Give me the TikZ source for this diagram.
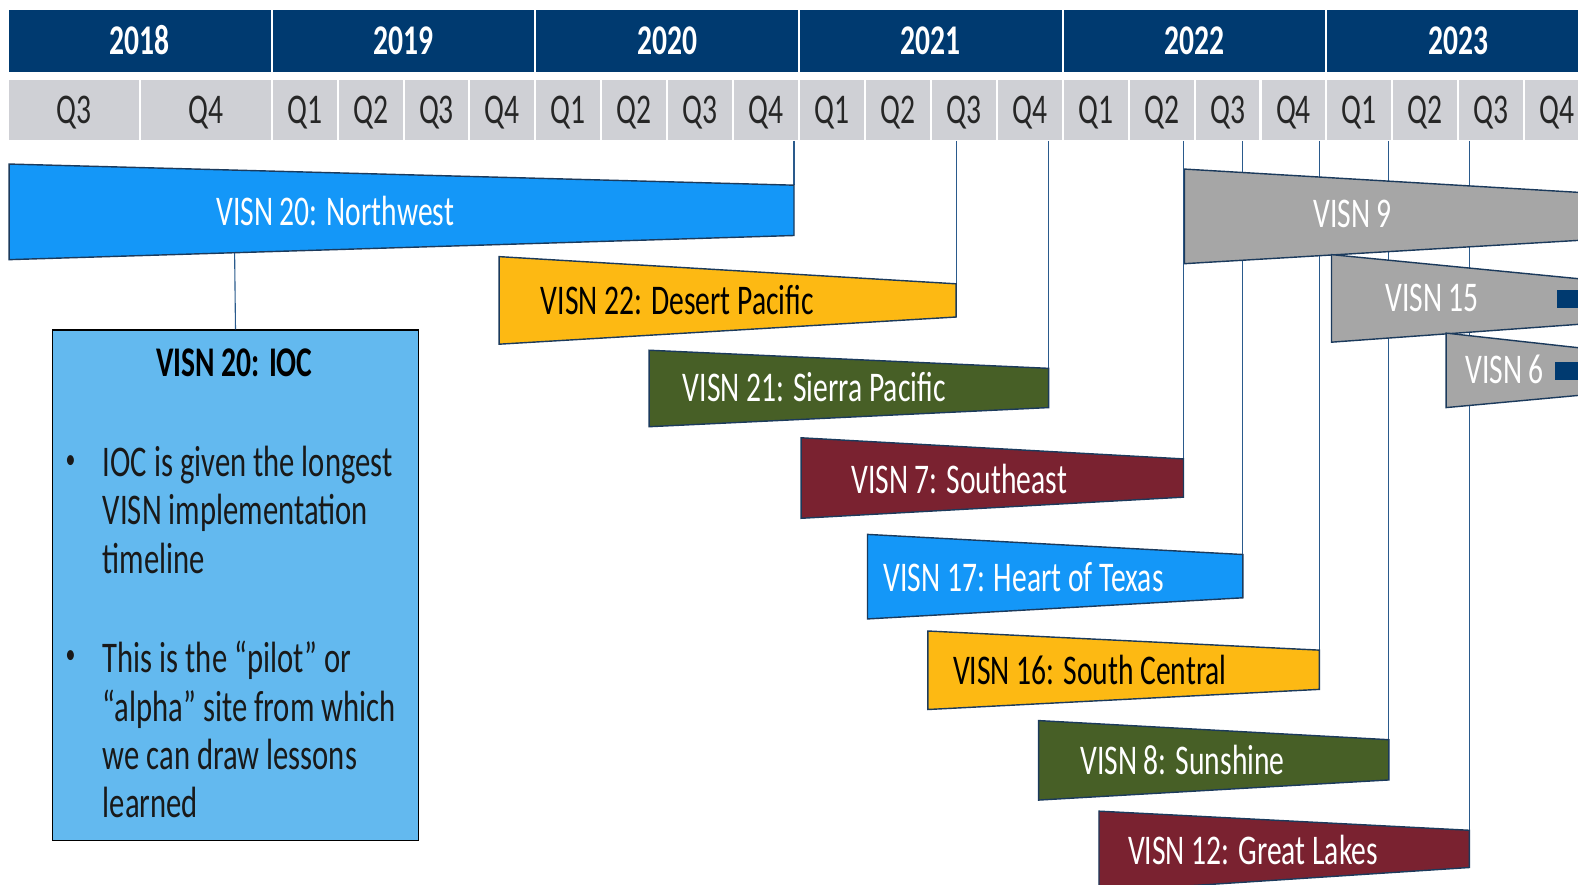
\documentclass[tikz,border=0pt]{standalone}
\usepackage{tikz}
\usetikzlibrary{positioning, calc}
\usepackage{xcolor}
\usepackage{fontspec}
\setmainfont{Carlito}[FakeStretch=0.7]

\definecolor{headnavy}{HTML}{003A70}
\definecolor{qgray}{HTML}{CFD0D5}
\definecolor{barblue}{HTML}{1497F8}
\definecolor{bargold}{HTML}{FDB913}
\definecolor{bargreen}{HTML}{475F26}
\definecolor{barmaroon}{HTML}{7A2230}
\definecolor{bargray}{HTML}{A6A6A6}
\definecolor{edgenavy}{HTML}{1B3A5C}
\definecolor{guideblue}{HTML}{2A5A8C}
\definecolor{iocblue}{HTML}{63B9EF}

\begin{document}
\begin{tikzpicture}[x=1pt, y=-1pt,
    year_cell/.style={fill=headnavy, text=white, font={\fontsize{42}{48}\selectfont\bfseries},
      minimum width=260pt, minimum height=62pt, inner sep=0pt, text height=27pt, text depth=0pt},
    quarter_cell/.style={fill=qgray, text=black!85, font={\fontsize{42}{48}\selectfont},
      minimum width=63.5pt, minimum height=60pt, inner sep=0pt, text height=27pt, text depth=0pt},
    wide_quarter/.style={quarter_cell, minimum width=129pt},
    bar_edge/.style={draw=edgenavy, line width=1.4pt, line join=miter},
    bar_label/.style={text=white, font={\fontsize{42}{48}\selectfont}, inner sep=0pt},
    bar_label_dark/.style={bar_label, text=black},
    guide_line/.style={draw=guideblue, line width=1.1pt},
    ioc_box_style/.style={fill=iocblue, draw=black, line width=1.6pt,
      minimum width=364pt, minimum height=507pt, inner sep=0pt},
    ioc_text/.style={text=black!90, font={\fontsize{43.5}{48}\selectfont}, align=left,
      inner sep=0pt, anchor=north west},
    bullet_dot/.style={text=black!90, font={\fontsize{28}{32}\selectfont}, inner sep=0pt}]
          % 子圖形 canvas (類型: bounding_box)
          \useasboundingbox (0, 0) rectangle (1568, 879);
          \clip (0, 0) rectangle (1568, 879);

          % 子圖形 years (類型: header)
          \begin{scope}[shift={(0.0, 0.0)}]
            % 年份
            \node[year_cell] (year_2018) at (139, 41) {2018};
            \node[year_cell] (year_2019) at (401, 41) {2019};
            \node[year_cell] (year_2020) at (663, 41) {2020};
            \node[year_cell] (year_2021) at (925, 41) {2021};
            \node[year_cell] (year_2022) at (1187, 41) {2022};
            \node[year_cell] (year_2023) at (1449, 41) {2023};
          \end{scope}

          % 子圖形 quarters (類型: header)
          \begin{scope}[shift={(0.0, 0.0)}]
            % 季度
            \node[wide_quarter] (q_2018_3) at (73.5, 109) {Q3};
            \node[wide_quarter] (q_2018_4) at (205, 109) {Q4};
            \node[quarter_cell] (q_2019_1) at (302.75, 109) {Q1};
            \node[quarter_cell] (q_2019_2) at (368.25, 109) {Q2};
            \node[quarter_cell] (q_2019_3) at (433.75, 109) {Q3};
            \node[quarter_cell] (q_2019_4) at (499.25, 109) {Q4};
            \node[quarter_cell] (q_2020_1) at (564.75, 109) {Q1};
            \node[quarter_cell] (q_2020_2) at (630.25, 109) {Q2};
            \node[quarter_cell] (q_2020_3) at (695.75, 109) {Q3};
            \node[quarter_cell] (q_2020_4) at (761.25, 109) {Q4};
            \node[quarter_cell] (q_2021_1) at (826.75, 109) {Q1};
            \node[quarter_cell] (q_2021_2) at (892.25, 109) {Q2};
            \node[quarter_cell] (q_2021_3) at (957.75, 109) {Q3};
            \node[quarter_cell] (q_2021_4) at (1023.25, 109) {Q4};
            \node[quarter_cell] (q_2022_1) at (1088.75, 109) {Q1};
            \node[quarter_cell] (q_2022_2) at (1154.25, 109) {Q2};
            \node[quarter_cell] (q_2022_3) at (1219.75, 109) {Q3};
            \node[quarter_cell] (q_2022_4) at (1285.25, 109) {Q4};
            \node[quarter_cell] (q_2023_1) at (1350.75, 109) {Q1};
            \node[quarter_cell] (q_2023_2) at (1416.25, 109) {Q2};
            \node[quarter_cell] (q_2023_3) at (1481.75, 109) {Q3};
            \node[quarter_cell] (q_2023_4) at (1547.25, 109) {Q4};
          \end{scope}

          % 子圖形 ioc (類型: box)
          \begin{scope}[shift={(0.0, 0.0)}]
            % 說明框
            \node[ioc_box_style] (ioc_box) at (234, 581.5) {};
            \node[bar_label_dark, font={\fontsize{42}{48}\selectfont\bfseries}] (ioc_title) at (233, 360) {VISN 20: IOC};
            \node[bullet_dot] (dot_1) at (70, 459) {•};
            \node[ioc_text] (bullet_1) at (102, 443) {IOC is given the longest\\VISN implementation\\timeline};
            \node[bullet_dot] (dot_2) at (70, 653) {•};
            \node[ioc_text] (bullet_2) at (102, 637) {This is the “pilot” or\\“alpha” site from which\\we can draw lessons\\learned};
          \end{scope}

          % 子圖形 anchors (類型: coordinate)
          \begin{scope}[shift={(0.0, 0.0)}]
            % 錨點
            \coordinate (visn20_tick) at (789, 140);
            \coordinate (visn20_end) at (789, 184);
            \coordinate (visn20_foot) at (233, 240);
            \coordinate (visn22_tick) at (950, 140);
            \coordinate (visn22_end) at (950, 282);
            \coordinate (visn21_tick) at (1042, 140);
            \coordinate (visn21_end) at (1042, 366);
            \coordinate (visn7_tick) at (1176, 140);
            \coordinate (visn7_end) at (1176, 456);
            \coordinate (visn17_tick) at (1235, 140);
            \coordinate (visn17_end) at (1235, 551);
            \coordinate (visn16_tick) at (1311, 140);
            \coordinate (visn16_end) at (1311, 646);
            \coordinate (visn8_tick) at (1380, 140);
            \coordinate (visn8_end) at (1380, 735);
            \coordinate (visn12_tick) at (1460, 140);
            \coordinate (visn12_end) at (1460, 825);
          \end{scope}

          % 子圖形 guides (類型: line)
          \begin{scope}[shift={(0.0, 0.0)}]
            % 線段
            \draw[guide_line] (visn20_tick) -- (visn20_end);
            \draw[guide_line] (visn20_foot) -- (ioc_box.north);
            \draw[guide_line] (visn22_tick) -- (visn22_end);
            \draw[guide_line] (visn21_tick) -- (visn21_end);
            \draw[guide_line] (visn7_tick) -- (visn7_end);
            \draw[guide_line] (visn17_tick) -- (visn17_end);
            \draw[guide_line] (visn16_tick) -- (visn16_end);
            \draw[guide_line] (visn8_tick) -- (visn8_end);
            \draw[guide_line] (visn12_tick) -- (visn12_end);
          \end{scope}

          % 子圖形 bars (類型: polygon)
          \begin{scope}[shift={(0.0, 0.0)}]
            % 梯形
            \fill[fill=barblue, bar_edge] (9, 163) -- (visn20_end) -- (789, 234) -- (9, 258) -- cycle;
            \fill[fill=bargold, bar_edge] (496, 255) -- (visn22_end) -- (950, 315) -- (496, 342) -- cycle;
            \fill[fill=bargreen, bar_edge] (645, 348) -- (visn21_end) -- (1042, 405) -- (645, 424) -- cycle;
            \fill[fill=barmaroon, bar_edge] (796, 435) -- (visn7_end) -- (1176, 494) -- (796, 515) -- cycle;
            \fill[fill=barblue, bar_edge] (862, 531) -- (visn17_end) -- (1235, 594) -- (862, 615) -- cycle;
            \fill[fill=bargold, bar_edge] (922, 627) -- (visn16_end) -- (1311, 685) -- (922, 705) -- cycle;
            \fill[fill=bargreen, bar_edge] (1032, 716) -- (visn8_end) -- (1380, 775) -- (1032, 795) -- cycle;
            \fill[fill=barmaroon, bar_edge] (1092, 806) -- (visn12_end) -- (1460, 862) -- (1092, 886) -- cycle;
            \fill[fill=bargray, bar_edge] (1177, 168) -- (1600, 193) -- (1600, 237) -- (1177, 262) -- cycle;
            \fill[fill=bargray, bar_edge] (1323, 253) -- (1600, 280) -- (1600, 320) -- (1323, 340) -- cycle;
            \fill[fill=bargray, bar_edge] (1437, 331) -- (1600, 349) -- (1600, 390) -- (1437, 405) -- cycle;
            \fill[headnavy] (1547, 288) rectangle (1600, 306);
            \fill[headnavy] (1545, 360) rectangle (1600, 378);
          \end{scope}

          % 子圖形 bar_labels (類型: label)
          \begin{scope}[shift={(0.0, 0.0)}]
            % 標籤
            \node[bar_label] (label_visn20) at (333, 210) {VISN 20: Northwest};
            \node[bar_label_dark] (label_visn22) at (673, 298) {VISN 22: Desert Pacific};
            \node[bar_label] (label_visn21) at (809, 385) {VISN 21: Sierra Pacific};
            \node[bar_label] (label_visn7) at (953, 476) {VISN 7: Southeast};
            \node[bar_label] (label_visn17) at (1017, 574) {VISN 17: Heart of Texas};
            \node[bar_label_dark] (label_visn16) at (1083, 666) {VISN 16: South Central};
            \node[bar_label] (label_visn8) at (1175, 755) {VISN 8: Sunshine};
            \node[bar_label] (label_visn12) at (1245, 845) {VISN 12: Great Lakes};
            \node[bar_label] (label_visn9) at (1344, 213) {VISN 9};
            \node[bar_label] (label_visn15) at (1423, 296) {VISN 15};
            \node[bar_label] (label_visn6) at (1495, 367) {VISN 6};
          \end{scope}
        \end{tikzpicture}
\end{document}
